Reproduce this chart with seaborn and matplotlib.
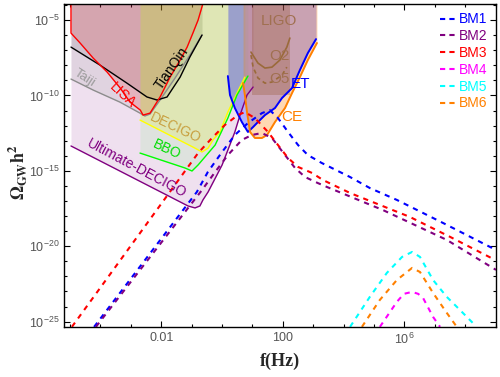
import numpy as np
import pandas as pd
import seaborn as sns
import matplotlib.pyplot as plt
from matplotlib.lines import Line2D
from matplotlib.ticker import FixedLocator, NullFormatter

sns.set_style("ticks")
plt.rcParams['font.family'] = ['Liberation Sans', 'DejaVu Sans']
plt.rcParams['mathtext.fontset'] = 'custom'
plt.rcParams['mathtext.rm'] = 'Liberation Sans'
plt.rcParams['mathtext.it'] = 'Liberation Sans:italic'
plt.rcParams['mathtext.bf'] = 'Liberation Sans:bold'

# detector sensitivity curves, log10(f/Hz) and log10(Omega h^2)
lisa_lf = [-4.97, -4.97, -4.67, -4.24, -3.78, -3.35, -3.03, -2.69, -2.60, -2.37, -2.04, -1.71, -1.38, -1.15, -0.96, -0.79, -0.63]
lisa_lo = [-3.9, -5.86, -6.52, -7.52, -8.45, -9.51, -10.44, -10.97, -11.30, -11.17, -10.10, -8.78, -7.65, -6.79, -5.86, -5.00, -3.9]
taiji_lf = [-4.97, -4.24, -3.36, -2.70, -2.54, -2.37, -2.04, -1.55, -1.06, -0.66]
taiji_lo = [-8.91, -9.64, -10.44, -11.17, -11.36, -11.23, -10.30, -8.85, -7.32, -5.99]
tianqin_lf = [-4.97, -4.02, -3.13, -2.47, -2.14, -1.81, -1.38, -1.06, -0.66]
tianqin_lo = [-6.79, -7.98, -9.18, -10.10, -10.30, -10.10, -8.78, -7.45, -5.99]
decigo_lf = [-2.70, -0.96, -0.66, -0.46, -0.30, -0.07, 0.19, 0.46, 0.75]
decigo_lo = [-11.63, -13.42, -13.75, -13.49, -12.95, -12.42, -11.10, -9.97, -8.78]
bbo_lf = [-2.70, -1.22, -0.99, -0.79, -0.23, 0.19, 0.49, 0.85]
bbo_lo = [-13.82, -14.81, -15.01, -14.61, -13.29, -11.50, -9.97, -8.71]
udecigo_lf = [-4.97, -1.12, -0.89, -0.73, -0.63, -0.46, 0.0, 0.42, 0.59, 0.82, 1.02]
udecigo_lo = [-13.35, -17.33, -17.46, -17.33, -16.93, -16.40, -14.61, -12.42, -11.30, -9.97, -9.44]
et_lf = [0.19, 0.26, 0.42, 0.65, 0.85, 1.02, 1.18, 1.41, 1.74, 1.97, 2.30, 2.56, 2.82, 3.09]
et_lo = [-8.71, -9.97, -10.83, -11.76, -12.42, -12.09, -11.76, -11.30, -10.83, -10.17, -9.51, -8.31, -7.19, -6.26]
ce_lf = [0.69, 0.75, 0.82, 0.92, 1.08, 1.31, 1.48, 1.74, 2.07, 2.30, 2.56, 2.82, 3.12]
ce_lo = [-9.18, -9.97, -11.10, -12.42, -12.82, -12.82, -12.62, -11.76, -10.83, -9.84, -8.78, -7.65, -6.52]
ligo_lf = [0.98, 2.23]
ligo_lo = [-10.0, -10.0]
o2_lf = [0.95, 1.18, 1.41, 1.64, 1.90, 2.13, 2.23]
o2_lo = [-7.12, -7.85, -8.18, -8.12, -7.65, -6.79, -6.19]
o5_lf = [0.95, 1.02, 1.18, 1.41, 1.64, 1.97, 2.13]
o5_lo = [-7.32, -8.12, -8.84, -9.18, -9.11, -8.65, -8.12]

# benchmark spectra
bm1_lf = [-4.21, -0.83, -0.47, 0.0, 0.42, 0.85, 1.31, 1.57, 1.84, 2.17, 2.50, 2.82, 3.28, 4.21, 4.86, 5.75, 7.27, 9.01]
bm1_lo = [-25.35, -16.40, -15.08, -13.75, -12.62, -11.83, -11.17, -10.97, -11.50, -12.42, -13.29, -13.95, -14.48, -15.41, -16.14, -16.93, -18.46, -20.25]
bm2_lf = [-4.15, -0.66, -0.23, 0.19, 0.65, 0.98, 1.31, 1.64, 2.07, 2.40, 2.73, 3.15, 3.45, 5.29, 7.39, 9.01]
bm2_lo = [-25.35, -16.27, -15.08, -13.95, -12.95, -12.62, -12.49, -12.82, -13.95, -14.81, -15.41, -15.81, -16.07, -17.60, -19.58, -21.57]
bm3_lf = [-4.94, -0.79, -0.33, 0.09, 0.52, 0.75, 1.08, 1.51, 1.84, 2.17, 2.50, 2.96, 3.32, 4.21, 6.18, 7.50, 8.98]
bm3_lo = [-25.35, -13.82, -12.82, -11.96, -11.30, -11.10, -11.50, -12.42, -13.29, -14.15, -14.74, -15.14, -15.61, -16.47, -18.06, -19.38, -20.91]
bm4_lf = [5.19, 5.75, 5.98, 6.25, 6.45, 6.61, 6.94, 7.17]
bm4_lo = [-25.35, -23.69, -23.16, -23.03, -23.16, -23.43, -24.69, -25.35]
bm5_lf = [4.21, 4.86, 5.42, 5.92, 6.25, 6.51, 6.94, 7.39, 7.82, 8.31]
bm5_lo = [-25.35, -23.36, -21.77, -20.71, -20.38, -20.71, -22.24, -23.36, -24.22, -25.22]
bm6_lf = [4.60, 5.19, 5.75, 6.25, 6.51, 6.94, 7.39, 7.72]
bm6_lo = [-25.35, -23.56, -22.24, -21.44, -21.71, -23.10, -24.42, -25.35]

bm_names = ['BM1', 'BM2', 'BM3', 'BM4', 'BM5', 'BM6']
bm_colors = ['#0000ff', '#800080', '#ff0000', '#ff00ff', '#00ffff', '#ff8000']

bm_df = pd.concat([
    pd.DataFrame({'f': 10.0 ** np.array(lf), 'omega': 10.0 ** np.array(lo), 'model': name})
    for name, lf, lo in zip(bm_names,
                            [bm1_lf, bm2_lf, bm3_lf, bm4_lf, bm5_lf, bm6_lf],
                            [bm1_lo, bm2_lo, bm3_lo, bm4_lo, bm5_lo, bm6_lo])
], ignore_index=True)

fig = plt.figure(figsize=(5.0, 3.77), dpi=100)
ax = fig.add_axes([0.128, 0.133, 0.864, 0.856])
ax.set_xscale('log')
ax.set_yscale('log')
top = 1e-3

def region(lf, lo, color, alpha, lw=1.0, ls='-', line=True):
    f = 10.0 ** np.array(lf)
    om = 10.0 ** np.array(lo)
    ax.fill_between(f, om, top, color=color, alpha=alpha, lw=0)
    if line:
        ax.plot(f, om, color=color, lw=lw, ls=ls)

region(udecigo_lf, udecigo_lo, '#800080', 0.12)
region(taiji_lf, taiji_lo, '#8c8c8c', 0.15)
region(tianqin_lf, tianqin_lo, '#000000', 0.08)
region(lisa_lf, lisa_lo, '#ff0000', 0.15)
region(decigo_lf, decigo_lo, '#ffff00', 0.18)
region(bbo_lf, bbo_lo, '#00ff00', 0.07)
region(et_lf, et_lo, '#0000ff', 0.3, lw=1.4)
region(ce_lf, ce_lo, '#ff8000', 0.3, lw=1.4)
region(ligo_lf, ligo_lo, '#8b4513', 0.25, line=False)
ax.plot(10.0 ** np.array(o2_lf), 10.0 ** np.array(o2_lo), color='#9a6a3a', lw=1.2)
ax.plot(10.0 ** np.array(o5_lf), 10.0 ** np.array(o5_lo), color='#9a6a3a', lw=1.2, ls=(0, (2.5, 2)))

sns.lineplot(data=bm_df, x='f', y='omega', hue='model', style='model',
             palette=dict(zip(bm_names, bm_colors)),
             dashes={n: (2.5, 2.5) for n in bm_names},
             sort=False, estimator=None, lw=1.5, legend=False, ax=ax)

# labels on the detector regions
lab = dict(ha='center', va='center')
ax.text(10 ** -3.26, 10 ** -9.97, 'LISA', color='#ff0000', fontsize=10, rotation=-43, **lab)
ax.text(10 ** -4.51, 10 ** -8.85, 'Taiji', color='#999999', fontsize=9.5, rotation=-33, **lab)
ax.text(10 ** -1.65, 10 ** -8.18, 'TianQin', color='#000000', fontsize=10, rotation=55, **lab)
ax.text(10 ** -1.55, 10 ** -12.16, 'DECIGO', color='#c8a040', fontsize=10, rotation=-25, **lab)
ax.text(10 ** -1.81, 10 ** -13.62, 'BBO', color='#00dd00', fontsize=10, rotation=-25, **lab)
ax.text(10 ** -2.80, 10 ** -14.81, 'Ultimate-DECIGO', color='#800080', fontsize=10, rotation=-28, **lab)
ax.text(10 ** 1.87, 10 ** -5.07, 'LIGO', color='#a07050', fontsize=11, **lab)
ax.text(10 ** 1.90, 10 ** -7.39, 'O2', color='#a07050', fontsize=11, **lab)
ax.text(10 ** 1.90, 10 ** -8.91, 'O5', color='#a07050', fontsize=11, **lab)
ax.text(10 ** 2.59, 10 ** -9.24, 'ET', color='#0000ff', fontsize=11, **lab)
ax.text(10 ** 2.30, 10 ** -11.43, 'CE', color='#ff8000', fontsize=11, **lab)

ax.set_xlim(10 ** -5.2, 10 ** 9.01)
ax.set_ylim(10 ** -25.35, 10 ** -3.94)

ax.xaxis.set_major_locator(FixedLocator([1e-2, 1e2, 1e6]))
ax.xaxis.set_minor_locator(FixedLocator([10.0 ** k for k in range(-5, 10)]))
ax.set_xticklabels(['0.01', '100', r'$10^{6}$'])
ax.xaxis.set_minor_formatter(NullFormatter())
ax.yaxis.set_major_locator(FixedLocator([1e-25, 1e-20, 1e-15, 1e-10, 1e-5]))
ax.yaxis.set_minor_locator(FixedLocator([10.0 ** k for k in range(-25, -3)]))
ax.set_yticklabels([r'$10^{-25}$', r'$10^{-20}$', r'$10^{-15}$', r'$10^{-10}$', r'$10^{-5}$'])
ax.yaxis.set_minor_formatter(NullFormatter())
ax.tick_params(which='both', direction='in', top=True, right=True, colors='black',
               labelcolor='#555555', labelsize=9, width=0.8)
ax.tick_params(which='major', length=4)
ax.tick_params(which='minor', length=2.5)
for s in ax.spines.values():
    s.set_color('black')
    s.set_linewidth(1.0)

ax.set_xlabel('f(Hz)', fontfamily='Liberation Serif', fontweight='bold', fontsize=13, labelpad=4)
ax.set_ylabel(r'$\mathbf{\Omega_{GW}h^2}$', math_fontfamily='stix', fontsize=13)
ax.yaxis.set_label_coords(-0.08, 0.48)

handles = [Line2D([], [], color=c, lw=1.5, ls=(0, (2.5, 2))) for c in bm_colors]
ax.legend(handles, bm_names, loc='upper right', frameon=False, labelcolor=bm_colors,
          fontsize=10, handlelength=1.2, handletextpad=0.2, labelspacing=0.2,
          borderaxespad=0.2)

fig.savefig('out.png', dpi=100)
